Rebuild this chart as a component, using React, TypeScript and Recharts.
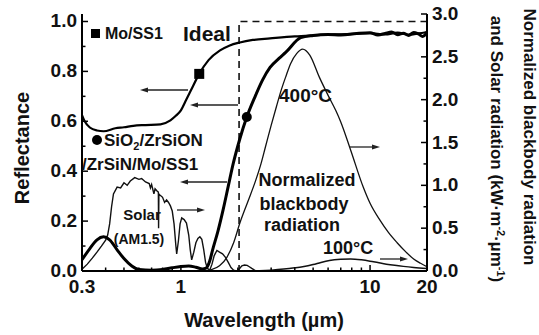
import React from 'react';
import { ComposedChart, Line, Scatter, XAxis, YAxis } from 'recharts';

const FONT = '"Liberation Sans", Arial, Helvetica, sans-serif';

// plot box (fixed by margins + axis sizes below)
const PLOT = { left: 82, right: 427, top: 14, bottom: 271 };

// axis ticks
const xMajor = [0.3, 1, 10, 20];
const xMinor = [0.4, 0.5, 0.6, 0.7, 0.8, 0.9, 2, 3, 4, 5, 6, 7, 8, 9];
const leftMajor = [0, 0.2, 0.4, 0.6, 0.8, 1.0];
const leftMinor = [0.1, 0.3, 0.5, 0.7, 0.9];
const rightMajor = [0, 0.5, 1, 1.5, 2, 2.5, 3];
const rightMinor = [0.25, 0.75, 1.25, 1.75, 2.25, 2.75];

// Mo/SS1 reflectance
const moLam = [0.3, 0.31, 0.33, 0.36, 0.39, 0.45, 0.5, 0.56, 0.65, 0.78, 0.88, 0.94, 1.0, 1.07, 1.13, 1.25, 1.4, 1.61, 1.8, 2.05, 2.4, 2.96, 4.0, 5.0, 6.5, 8, 10, 12, 14, 16, 18, 20];
const moR = [0.625, 0.6, 0.575, 0.563, 0.56, 0.572, 0.576, 0.582, 0.585, 0.588, 0.604, 0.622, 0.644, 0.688, 0.724, 0.79, 0.845, 0.884, 0.903, 0.916, 0.926, 0.932, 0.94, 0.944, 0.948, 0.95, 0.953, 0.948, 0.955, 0.947, 0.952, 0.958];

// SiO2/ZrSiON/ZrSiN/Mo/SS1 reflectance
const coatLam = [0.3, 0.33, 0.36, 0.39, 0.42, 0.46, 0.5, 0.55, 0.6, 0.7, 0.8, 0.9, 1.0, 1.1, 1.2, 1.3, 1.36, 1.42, 1.47, 1.57, 1.67, 1.78, 1.89, 2.05, 2.23, 2.47, 2.7, 2.96, 3.3, 3.58, 4.3, 5.0, 6.0, 7.0, 8.5, 10, 11, 12, 13, 14, 15, 16, 17, 18, 19, 20];
const coatR = [0.045, 0.09, 0.125, 0.137, 0.125, 0.085, 0.05, 0.02, 0.006, 0.003, 0.006, 0.013, 0.018, 0.02, 0.015, 0.008, 0.012, 0.04, 0.084, 0.16, 0.244, 0.34, 0.43, 0.53, 0.617, 0.7, 0.765, 0.816, 0.852, 0.876, 0.935, 0.944, 0.948, 0.946, 0.952, 0.955, 0.946, 0.952, 0.958, 0.947, 0.953, 0.944, 0.956, 0.95, 0.94, 0.958];

// ideal selective absorber
const idealLam = [0.3, 2.03, 2.03, 20];
const idealR = [0, 0, 1, 1];

// markers
const moMarkLam = [1.25];
const moMarkR = [0.79];
const coatMarkLam = [2.23];
const coatMarkR = [0.617];

// normalized blackbody 400 C (right axis)
const bb400Lam = [1.3, 1.45, 1.6, 1.75, 1.9, 2.05, 2.25, 2.47, 2.65, 2.8, 3.0, 3.2, 3.4, 3.6, 3.8, 4.1, 4.4, 4.8, 5.4, 6.0, 6.6, 7.0, 7.9, 9.2, 10, 11.3, 12.5, 13.9, 15.5, 17, 18.5, 20];
const bb400Val = [0, 0.015, 0.06, 0.16, 0.33, 0.56, 0.8, 1.04, 1.25, 1.45, 1.7, 1.92, 2.12, 2.28, 2.42, 2.54, 2.59, 2.52, 2.26, 2.05, 1.87, 1.74, 1.41, 0.98, 0.79, 0.59, 0.45, 0.33, 0.22, 0.14, 0.09, 0.05];

// normalized blackbody 100 C (right axis)
const bb100Lam = [2.2, 2.6, 3.0, 3.5, 4.0, 4.4, 5.0, 5.5, 6.1, 7.0, 7.9, 9.0, 10, 11, 12.2, 13.5, 15, 17, 20];
const bb100Val = [0, 0.003, 0.01, 0.022, 0.037, 0.05, 0.075, 0.1, 0.122, 0.136, 0.14, 0.13, 0.115, 0.098, 0.08, 0.066, 0.054, 0.042, 0.03];

// solar AM1.5 (right axis)
const solarLam = [0.3, 0.32, 0.34, 0.36, 0.38, 0.4, 0.41, 0.42, 0.43, 0.44, 0.46, 0.48, 0.5, 0.52, 0.54, 0.57, 0.6, 0.62, 0.65, 0.68, 0.69, 0.7, 0.72, 0.73, 0.75, 0.76, 0.762, 0.765, 0.78, 0.8, 0.82, 0.84, 0.86, 0.88, 0.9, 0.92, 0.94, 0.95, 0.97, 0.99, 1.01, 1.04, 1.07, 1.1, 1.12, 1.14, 1.17, 1.2, 1.23, 1.26, 1.29, 1.32, 1.35, 1.38, 1.42, 1.46, 1.5, 1.55, 1.6, 1.66, 1.72, 1.78, 1.84, 1.9, 1.97, 2.03, 2.1, 2.17, 2.24, 2.3, 2.37, 2.45, 2.5];
const solarVal = [0.02, 0.08, 0.15, 0.22, 0.29, 0.36, 0.42, 0.55, 0.75, 0.9, 0.98, 0.97, 1.03, 1.0, 1.05, 1.09, 1.07, 1.08, 1.04, 1.02, 0.97, 1.01, 0.9, 0.96, 0.93, 0.92, 0.5, 0.9, 0.88, 0.86, 0.8, 0.83, 0.8, 0.76, 0.7, 0.55, 0.3, 0.2, 0.35, 0.55, 0.62, 0.6, 0.56, 0.42, 0.25, 0.13, 0.22, 0.33, 0.38, 0.4, 0.37, 0.25, 0.1, 0.03, 0.01, 0.08, 0.18, 0.24, 0.22, 0.2, 0.16, 0.1, 0.04, 0.01, 0, 0.02, 0.06, 0.07, 0.065, 0.05, 0.03, 0.01, 0];

const pairs = (xs: number[], ys: number[]) => xs.map((x, i) => ({ x, y: ys[i] }));

const moData = pairs(moLam, moR);
const coatData = pairs(coatLam, coatR);
const idealData = pairs(idealLam, idealR);
const bb400Data = pairs(bb400Lam, bb400Val);
const bb100Data = pairs(bb100Lam, bb100Val);
const solarData = pairs(solarLam, solarVal);
const moMark = pairs(moMarkLam, moMarkR);
const coatMark = pairs(coatMarkLam, coatMarkR);

const isIn = (arr: number[], v: number) => arr.some((a) => Math.abs(a - v) < 1e-9);
const sortNum = (a: number[]) => [...a].sort((p, q) => p - q);

const labelStyle = { fontFamily: FONT, fontWeight: 700, fill: '#111' };

const BottomTick = (p: any) => {
  const x = p.payload.coordinate ?? p.x;
  const major = isIn(xMajor, p.payload.value);
  const ay = PLOT.bottom;
  return (
    <g>
      <line x1={x} x2={x} y1={ay} y2={ay - (major ? 6 : 3.5)} stroke="#000" strokeWidth={1.5} />
      {major && (
        <text x={x} y={ay + 22} textAnchor="middle" fontSize={19} {...labelStyle}>
          {p.payload.value}
        </text>
      )}
    </g>
  );
};

const TopTick = (p: any) => {
  const x = p.payload.coordinate ?? p.x;
  const major = isIn(xMajor, p.payload.value);
  const ay = PLOT.top;
  return <line x1={x} x2={x} y1={ay} y2={ay + (major ? 6 : 3.5)} stroke="#000" strokeWidth={1.5} />;
};

const LeftTick = (p: any) => {
  const y = p.payload.coordinate ?? p.y;
  const major = isIn(leftMajor, p.payload.value);
  const ax = PLOT.left;
  return (
    <g>
      <line x1={ax} x2={ax + (major ? 6 : 3.5)} y1={y} y2={y} stroke="#000" strokeWidth={1.5} />
      {major && (
        <text x={ax - 5} y={y + 6} textAnchor="end" fontSize={19} {...labelStyle}>
          {p.payload.value.toFixed(1)}
        </text>
      )}
    </g>
  );
};

const RightTick = (p: any) => {
  const y = p.payload.coordinate ?? p.y;
  const major = isIn(rightMajor, p.payload.value);
  const ax = PLOT.right;
  return (
    <g>
      <line x1={ax} x2={ax - (major ? 6 : 3.5)} y1={y} y2={y} stroke="#000" strokeWidth={1.5} />
      {major && (
        <text x={ax + 5} y={y + 6} textAnchor="start" fontSize={19} {...labelStyle}>
          {p.payload.value.toFixed(1)}
        </text>
      )}
    </g>
  );
};

const Arrow = ({ x1, x2, y }: { x1: number; x2: number; y: number }) => {
  const dir = x2 > x1 ? 1 : -1;
  return (
    <g>
      <line x1={x1} x2={x2 - dir * 5} y1={y} y2={y} stroke="#222" strokeWidth={1.3} />
      <polygon points={`${x2},${y} ${x2 - dir * 8},${y - 2.6} ${x2 - dir * 8},${y + 2.6}`} fill="#222" />
    </g>
  );
};

const axisLine = { stroke: '#000', strokeWidth: 2 };

export default function App() {
  return (
    <div style={{ position: 'absolute', left: 0, top: 0, width: 539, height: 335, background: '#fff', fontFamily: FONT }}>
      <ComposedChart width={539} height={335} margin={{ top: 14, right: 52, bottom: 34, left: 22 }}>
        <XAxis
          xAxisId="b"
          dataKey="x"
          type="number"
          scale="log"
          domain={[0.3, 20]}
          allowDataOverflow
          ticks={sortNum([...xMajor, ...xMinor])}
          interval={0}
          tick={BottomTick}
          tickLine={false}
          tickSize={0}
          axisLine={axisLine}
          height={30}
        />
        <XAxis
          xAxisId="t"
          orientation="top"
          type="number"
          scale="log"
          domain={[0.3, 20]}
          allowDataOverflow
          ticks={sortNum([...xMajor, ...xMinor])}
          interval={0}
          tick={TopTick}
          tickLine={false}
          tickSize={0}
          axisLine={axisLine}
          height={0}
        />
        <YAxis
          yAxisId="L"
          type="number"
          domain={[0, 1.03]}
          allowDataOverflow
          ticks={sortNum([...leftMajor, ...leftMinor])}
          interval={0}
          tick={LeftTick}
          tickLine={false}
          tickSize={0}
          axisLine={axisLine}
          width={60}
        />
        <YAxis
          yAxisId="R"
          orientation="right"
          type="number"
          domain={[0, 3]}
          allowDataOverflow
          ticks={sortNum([...rightMajor, ...rightMinor])}
          interval={0}
          tick={RightTick}
          tickLine={false}
          tickSize={0}
          axisLine={axisLine}
          width={60}
        />

        <Line xAxisId="b" yAxisId="R" data={solarData} dataKey="y" type="linear" stroke="#111" strokeWidth={1.4} dot={false} isAnimationActive={false} />
        <Line xAxisId="b" yAxisId="R" data={bb400Data} dataKey="y" type="monotone" stroke="#111" strokeWidth={1.3} dot={false} isAnimationActive={false} />
        <Line xAxisId="b" yAxisId="R" data={bb100Data} dataKey="y" type="monotone" stroke="#111" strokeWidth={1.5} dot={false} isAnimationActive={false} />
        <Line xAxisId="b" yAxisId="L" data={idealData} dataKey="y" type="linear" stroke="#111" strokeWidth={1.6} strokeDasharray="7 5" dot={false} isAnimationActive={false} />
        <Line xAxisId="b" yAxisId="L" data={moData} dataKey="y" type="monotone" stroke="#000" strokeWidth={2.2} dot={false} isAnimationActive={false} />
        <Line xAxisId="b" yAxisId="L" data={coatData} dataKey="y" type="monotone" stroke="#000" strokeWidth={3} dot={false} isAnimationActive={false} />
        <Scatter
          xAxisId="b"
          yAxisId="L"
          data={moMark}
          dataKey="y"
          isAnimationActive={false}
          shape={(p: any) => <rect x={p.cx - 5} y={p.cy - 5} width={10} height={10} fill="#000" />}
        />
        <Scatter
          xAxisId="b"
          yAxisId="L"
          data={coatMark}
          dataKey="y"
          isAnimationActive={false}
          shape={(p: any) => <circle cx={p.cx} cy={p.cy} r={5} fill="#000" />}
        />
      </ComposedChart>

      <svg width={539} height={335} style={{ position: 'absolute', left: 0, top: 0, pointerEvents: 'none' }}>
        {/* axis titles */}
        <text x={22} y={148} dy="0.35em" transform="rotate(-90 22 148)" textAnchor="middle" fontSize={20} {...labelStyle}>
          Reflectance
        </text>
        <text x={264} y={327} textAnchor="middle" fontSize={20} {...labelStyle}>
          Wavelength (µm)
        </text>
        <text x={530} y={137} dy="0.35em" transform="rotate(90 530 137)" textAnchor="middle" fontSize={17} {...labelStyle}>
          Normalized blackbody radiation
        </text>
        <text x={497} y={149} dy="0.35em" transform="rotate(90 497 149)" textAnchor="middle" fontSize={17} {...labelStyle}>
          and Solar radiation (kW·m
          <tspan dy={-6} fontSize={11}>-2</tspan>
          <tspan dy={6}>·µm</tspan>
          <tspan dy={-6} fontSize={11}>-1</tspan>
          <tspan dy={6}>)</tspan>
        </text>

        {/* legend / annotations */}
        <rect x={91} y={29} width={9} height={9} fill="#000" />
        <text x={105} y={39} fontSize={16} {...labelStyle}>Mo/SS1</text>
        <text x={183} y={41} fontSize={21} {...labelStyle}>Ideal</text>
        <circle cx={97} cy={140} r={5} fill="#000" />
        <text x={104} y={146} fontSize={17} {...labelStyle}>
          SiO<tspan dy={4} fontSize={11}>2</tspan>
          <tspan dy={-4}>/ZrSiON</tspan>
        </text>
        <text x={82} y={170} fontSize={17} {...labelStyle}>/ZrSiN/Mo/SS1</text>
        <text x={142} y={220} textAnchor="middle" fontSize={15} {...labelStyle}>Solar</text>
        <text x={139} y={244} textAnchor="middle" fontSize={14} {...labelStyle}>(AM1.5)</text>
        <text x={279} y={102} fontSize={19} {...labelStyle}>400°C</text>
        <text x={307} y={186} textAnchor="middle" fontSize={18} {...labelStyle}>Normalized</text>
        <text x={304} y={210} textAnchor="middle" fontSize={18} {...labelStyle}>blackbody</text>
        <text x={302} y={231} textAnchor="middle" fontSize={18} {...labelStyle}>radiation</text>
        <text x={323} y={254} fontSize={18} {...labelStyle}>100°C</text>

        <Arrow x1={188} x2={140} y={90} />
        <Arrow x1={238} x2={190} y={105} />
        <Arrow x1={227} x2={180} y={182} />
        <Arrow x1={177} x2={205} y={210} />
        <Arrow x1={350} x2={380} y={147} />
        <Arrow x1={380} x2={408} y={259} />
      </svg>
    </div>
  );
}
